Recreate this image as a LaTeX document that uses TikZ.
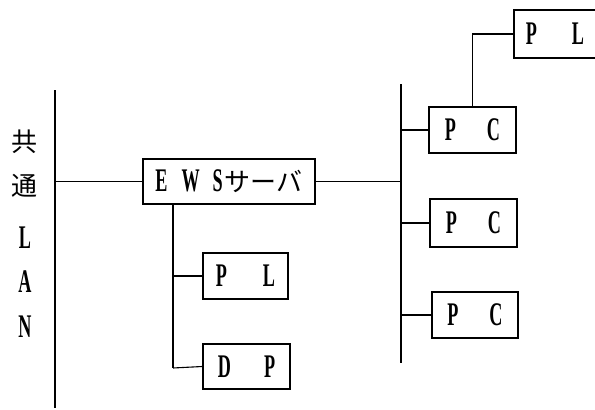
\documentclass[tikz,border=0pt]{standalone}
\usepackage{fontspec}
\newfontfamily\lat[FakeStretch=0.55]{Liberation Serif}
\newfontfamily\cjk{Noto Sans CJK JP}
\newcommand{\latsz}{\fontsize{33}{33}\selectfont\lat\bfseries}
\newcommand{\cjksz}{\fontsize{26}{26}\selectfont\cjk\mdseries}
\begin{document}
\begin{tikzpicture}[x=1pt,y=-1pt,
  box/.style={draw,line width=1.6pt,inner sep=0pt,font=\latsz},
  bus/.style={line width=1.8pt},
  link/.style={line width=1.1pt},
  lbl/.style={inner sep=0pt}]
\useasboundingbox (0,0) rectangle (595,410);
\clip (0,0) rectangle (595,410);
\fill[white] (0,0) rectangle (595,410);
% buses
\coordinate (lanT) at (55,90);
\coordinate (lanB) at (55,408);
\coordinate (rbT) at (401,84);
\coordinate (rbB) at (401,363);
\draw[bus] (lanT) -- (lanB);
\draw[bus] (rbT) -- (rbB);
% labels
\node[lbl,font=\cjksz] (k1) at (24,142) {共};
\node[lbl,font=\cjksz] (k2) at (24,186) {通};
\node[lbl,font=\latsz] (l1) at (25,238) {L};
\node[lbl,font=\latsz] (l2) at (25,282) {A};
\node[lbl,font=\latsz] (l3) at (25,327) {N};
% boxes
\node[box,minimum width=172pt,minimum height=45pt] (ews) at (229,181.5)
  {E\hspace{14pt}W\hspace{13pt}S\hspace{2pt}{\cjksz サーバ}};
\node[box,minimum width=85pt,minimum height=46pt] (pl1) at (245.5,276) {P\hspace{36pt}L};
\node[box,minimum width=87pt,minimum height=45pt] (dp) at (246.5,366.5) {D\hspace{33pt}P};
\node[box,minimum width=87pt,minimum height=46pt] (pc1) at (472.5,130) {P\hspace{31pt}C};
\node[box,minimum width=87pt,minimum height=48pt] (pc2) at (473.5,223) {P\hspace{31pt}C};
\node[box,minimum width=86pt,minimum height=46pt] (pc3) at (475,315) {P\hspace{31pt}C};
\node[box,minimum width=150pt,minimum height=48pt,anchor=west] (pl2) at (513,34) {};
\node[lbl,font=\latsz] (pl2t) at (555,34) {P\hspace{35pt}L};
% branch bus under EWS
\coordinate (brB) at (173,368);
\draw[bus] (ews.south -| brB) -- (brB);
% connectors
\draw[link] (ews.west) -- (ews.west -| lanT);
\draw[link] (ews.east) -- (ews.east -| rbT);
\draw[link] (pl1.west) -- (pl1.west -| brB);
\draw[link] (brB) -- (dp.west);
\draw[link] (pc1.west) -- (pc1.west -| rbT);
\draw[link] (pc2.west) -- (pc2.west -| rbT);
\draw[link] (pc3.west) -- (pc3.west -| rbT);
\draw[link] (pc1.north) |- (pl2.west);
\end{tikzpicture}
\end{document}
